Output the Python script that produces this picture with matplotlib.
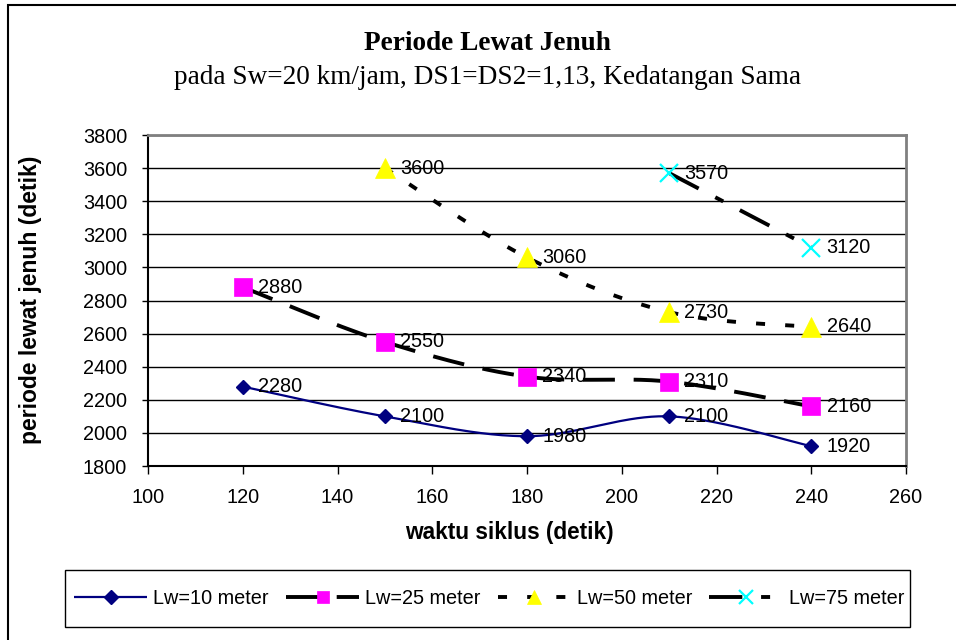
import numpy as np
import matplotlib
matplotlib.use('Agg')
import matplotlib.pyplot as plt
from matplotlib.patches import Rectangle

# ---------------- data ----------------
cycle_time = [120, 150, 180, 210, 240]
lw10 = [2280, 2100, 1980, 2100, 1920]
lw25 = [2880, 2550, 2340, 2310, 2160]
x50 = [150, 180, 210, 240]
lw50 = [3600, 3060, 2730, 2640]
x75 = [210, 240]
lw75 = [3570, 3120]
series_names = ['Lw=10 meter', 'Lw=25 meter', 'Lw=50 meter', 'Lw=75 meter']
title = 'Periode Lewat Jenuh'
subtitle = 'pada Sw=20 km/jam, DS1=DS2=1,13, Kedatangan Sama'
xlabel = 'waktu siklus (detik)'
ylabel = 'periode lewat jenuh (detik)'
xticks = [100, 120, 140, 160, 180, 200, 220, 240, 260]
yticks = [1800, 2000, 2200, 2400, 2600, 2800, 3000, 3200, 3400, 3600, 3800]

plt.rcParams['font.family'] = ['Liberation Sans', 'DejaVu Sans']
plt.rcParams['lines.scale_dashes'] = False

SANS = 'Liberation Sans'
SERIF = 'Liberation Serif'
FS = 14.3


def smooth(xs, ys, n=40):
    """Excel-like smoothed line (Catmull-Rom Bezier) through the data points."""
    P = np.column_stack([xs, ys]).astype(float)
    m = len(P)
    if m < 3:
        return P[:, 0], P[:, 1], list(range(m))
    pts = []
    for i in range(m - 1):
        p0 = P[i - 1] if i > 0 else P[i]
        p1 = P[i]
        p2 = P[i + 1]
        p3 = P[i + 2] if i + 2 < m else P[i + 1]
        c1 = p1 + (p2 - p0) / 6.0
        c2 = p2 - (p3 - p1) / 6.0
        t = np.linspace(0, 1, n + 1)
        if i < m - 2:
            t = t[:-1]
        t = t[:, None]
        b = ((1 - t) ** 3) * p1 + 3 * ((1 - t) ** 2) * t * c1 + 3 * (1 - t) * t ** 2 * c2 + t ** 3 * p2
        pts.append(b)
    pts = np.vstack(pts)
    return pts[:, 0], pts[:, 1], [i * n for i in range(m)]


fig = plt.figure(figsize=(9.56, 6.4), dpi=100)
fig.patch.set_facecolor('white')
ax = fig.add_axes([148 / 956, 1 - 466 / 640, (906 - 148) / 956, (466 - 135) / 640])

ax.set_xlim(100, 260)
ax.set_ylim(1800, 3800)
ax.set_xticks(xticks)
ax.set_yticks(yticks)
ax.tick_params(axis='y', direction='out', length=4, width=1, pad=11, labelsize=FS, colors='black')
ax.tick_params(axis='x', direction='out', length=5.5, width=1, pad=10, labelsize=FS, colors='black')
for lbl in ax.get_xticklabels() + ax.get_yticklabels():
    lbl.set_fontfamily(SANS)

ax.grid(axis='y', color='black', linewidth=1.0)
ax.set_axisbelow(True)
for s in ['top', 'right']:
    ax.spines[s].set_color('#808080')
    ax.spines[s].set_linewidth(2)
for s in ['left', 'bottom']:
    ax.spines[s].set_color('black')
    ax.spines[s].set_linewidth(1.5)

specs = [
    (cycle_time, lw10, dict(color='#000080', lw=1.6, linestyle='-', marker='D', ms=6.8,
                            mfc='#000080', mec='#000080')),
    (cycle_time, lw25, dict(color='black', lw=2.8, dashes=(23, 13.5), marker='s', ms=13.5,
                            mfc='#FF00FF', mec='#FF00FF', mew=0.5)),
    (x50, lw50, dict(color='black', lw=2.8, dashes=(6.5, 14.5), marker='^', ms=14,
                     mfc='#FFFF00', mec='#FFFF00', mew=0.5)),
    (x75, lw75, dict(color='black', lw=2.8, dashes=(24, 13.5, 6.5, 13.5), marker='x', ms=13.5,
                     mec='#00FFFF', mew=1.6)),
]
legend_ms = [7.2, 8.7, 10, 10]

for (xs, ys, st), name in zip(specs, series_names):
    sx, sy, idx = smooth(xs, ys)
    ax.plot(sx, sy, markevery=idx, label=name, solid_capstyle='butt', dash_capstyle='butt',
            clip_on=False, **st)
    for xv, yv in zip(xs, ys):
        ax.annotate(f'{yv}', (xv, yv), xytext=(11, 0), textcoords='offset points',
                    ha='left', va='center', fontsize=FS, fontfamily=SANS, color='black')

# axis titles
fig.text(509 / 956, 1 - 533 / 640, xlabel, ha='center', va='center', fontsize=16.3,
         fontweight='bold', fontfamily=SANS)
fig.text(31 / 956, 1 - 300 / 640, ylabel, ha='center', va='center', rotation=90,
         fontsize=16.5, fontweight='bold', fontfamily=SANS)

# chart title
fig.text(487 / 956, 1 - 44 / 640, title, ha='center', va='center', fontsize=19.6,
         fontweight='bold', fontfamily=SERIF)
fig.text(488 / 956, 1 - 78 / 640, subtitle, ha='center', va='center', fontsize=19.6,
         fontfamily=SERIF)

# legend (frame drawn separately)
leg = fig.legend(loc='center', bbox_to_anchor=(489 / 956, 1 - 598.5 / 640),
                 ncol=4, frameon=False, handlelength=3.7, handletextpad=0.3,
                 columnspacing=0.85, borderpad=0, numpoints=1,
                 prop={'family': SANS, 'size': FS})
for h, ms in zip(leg.legend_handles, legend_ms):
    h.set_markersize(ms)
fig.add_artist(Rectangle((65 / 956, 1 - 627 / 640), (910 - 65) / 956, (627 - 570) / 640,
                         transform=fig.transFigure, fill=False, edgecolor='black', linewidth=1.0))

# outer chart border
fig.add_artist(Rectangle((8 / 956, -0.05), 1.2, 1 - 5 / 640 + 0.05, transform=fig.transFigure,
                         fill=False, edgecolor='black', linewidth=1.5))

fig.savefig('out.png', dpi=100, facecolor='white')
